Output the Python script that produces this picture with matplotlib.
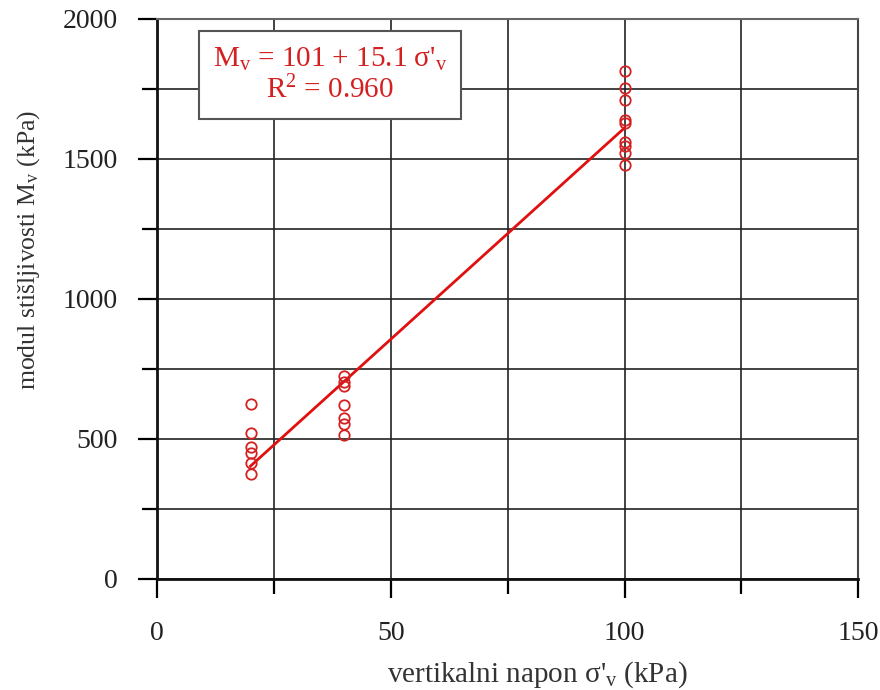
import numpy as np
import matplotlib
matplotlib.use("Agg")
import matplotlib.pyplot as plt
from matplotlib.ticker import MultipleLocator

plt.rcParams['font.family'] = ['Liberation Serif', 'DejaVu Serif']
plt.rcParams['mathtext.fontset'] = 'custom'
plt.rcParams['mathtext.rm'] = 'Liberation Serif'
plt.rcParams['mathtext.it'] = 'Liberation Serif:italic'

# measured points: vertical stress (kPa) and modulus (kPa)
sigma_20 = [20, 20, 20, 20, 20, 20]
mv_20 = [625, 520, 470, 450, 415, 375]
sigma_40 = [40, 40, 40, 40, 40, 40, 40]
mv_40 = [725, 705, 690, 620, 575, 555, 515]
sigma_100 = [100, 100, 100, 100, 100, 100, 100, 100, 100]
mv_100 = [1815, 1755, 1710, 1640, 1630, 1560, 1545, 1520, 1480]

x = np.array(sigma_20 + sigma_40 + sigma_100)
y = np.array(mv_20 + mv_40 + mv_100)

# regression from the chart
a, b = 101, 15.1
fit_x = np.array([20, 100])
fit_y = a + b * fit_x

fig = plt.figure(figsize=(8.8, 6.9), dpi=100)
ax = fig.add_axes([0.1784, 0.161, 0.797, 0.8115])

ax.plot(fit_x, fit_y, color='#e01010', lw=2, zorder=3)
ax.plot(x, y, 'o', mfc='none', mec='#d42020', mew=1.3, ms=7.5, zorder=4)

ax.set_xlim(0, 150)
ax.set_ylim(0, 2000)
ax.xaxis.set_major_locator(MultipleLocator(50))
ax.xaxis.set_minor_locator(MultipleLocator(25))
ax.yaxis.set_major_locator(MultipleLocator(500))
ax.yaxis.set_minor_locator(MultipleLocator(250))

ax.grid(True, which='both', color='#222222', lw=1.2)
ax.set_axisbelow(True)

ax.tick_params(axis='both', which='major', direction='out', length=13.5, width=1.6,
               labelsize=20, labelcolor='#222222')
ax.tick_params(axis='both', which='minor', direction='out', length=10.5, width=1.6)
ax.tick_params(axis='x', which='major', pad=17)
ax.tick_params(axis='y', which='major', pad=15)

for s in ['left', 'bottom']:
    ax.spines[s].set_linewidth(2)
    ax.spines[s].set_color('#111111')
ax.spines['right'].set_linewidth(1.5)
ax.spines['right'].set_color('#444444')
ax.spines['top'].set_linewidth(1.5)
ax.spines['top'].set_color('#666666')

ax.set_xlabel("vertikalni napon σ'$_\\mathregular{v}$ (kPa)", fontsize=21, color='#333333')
ax.set_ylabel("modul stišljivosti M$_\\mathregular{v}$ (kPa)", fontsize=18.5, color='#333333')
ax.xaxis.set_label_coords(0.542, -0.143)
ax.yaxis.set_label_coords(-0.164, 0.5875)

ax.text(37, 1800,
        "M$_\\mathregular{v}$ = 101 + 15.1 σ'$_\\mathregular{v}$\nR$^\\mathregular{2}$ = 0.960",
        color='#d42020', fontsize=21, ha='center', va='center', linespacing=1.15,
        bbox=dict(boxstyle='square,pad=0.48', fc='white', ec='#555555', lw=1.5), zorder=5)

fig.savefig("out.png", dpi=100)
